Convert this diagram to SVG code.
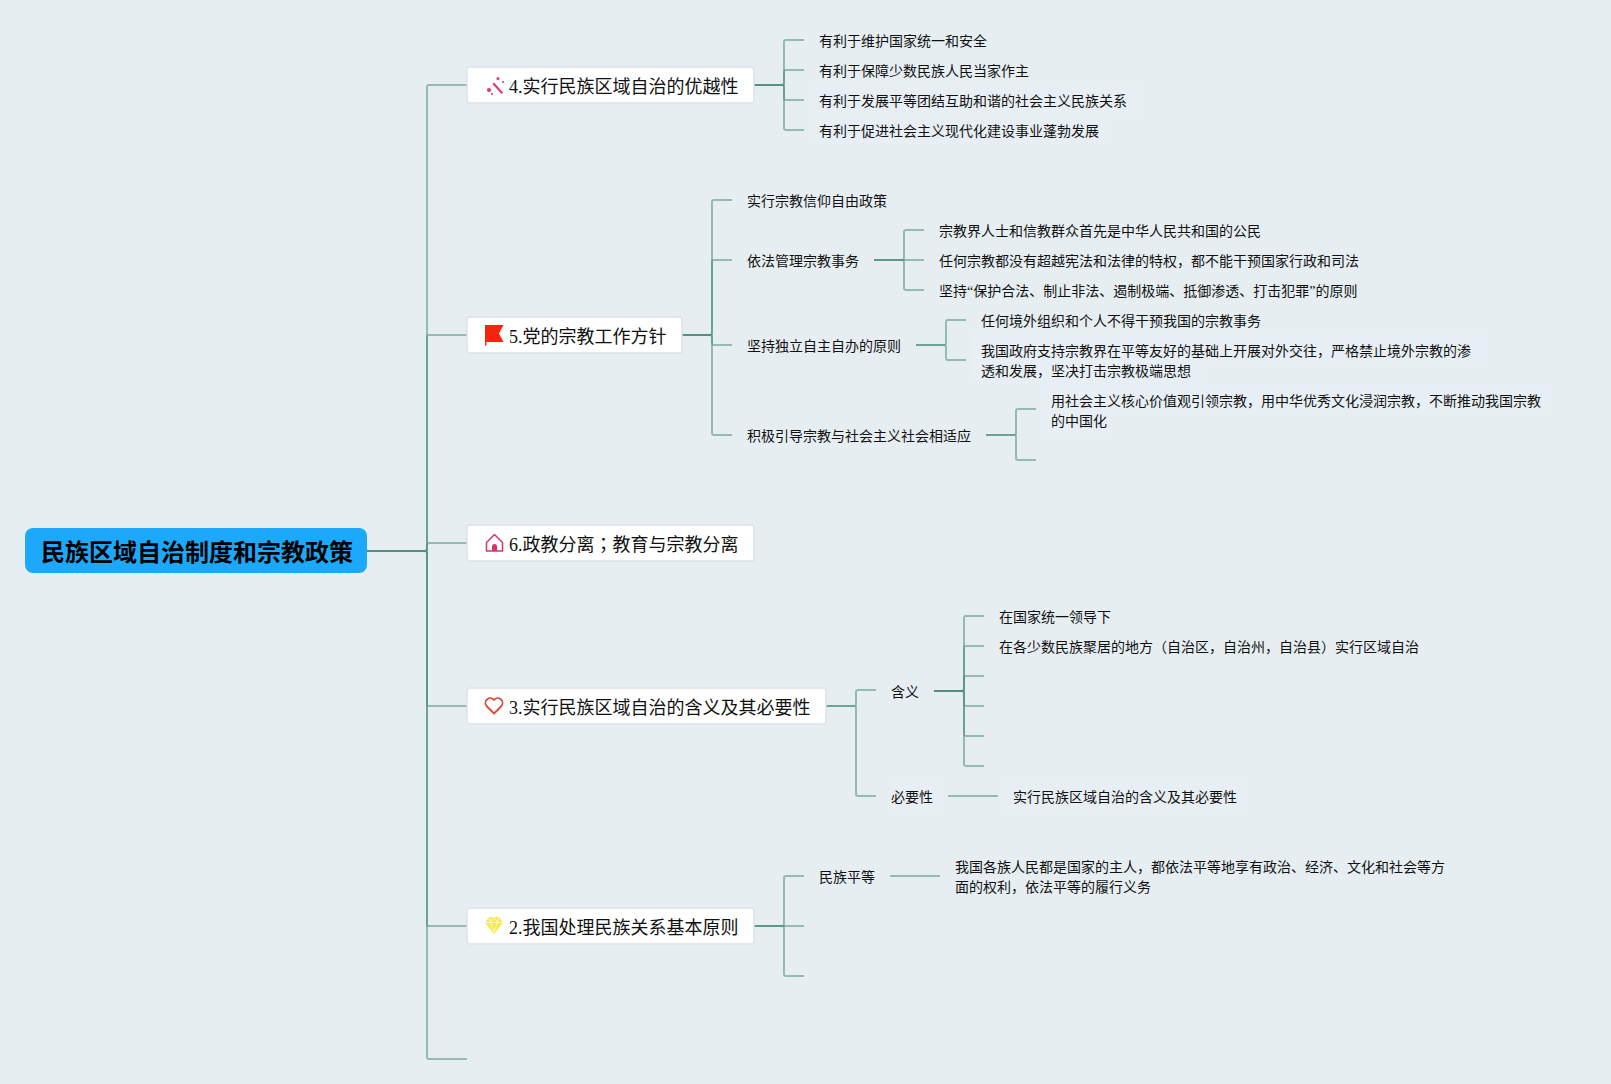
<svg xmlns="http://www.w3.org/2000/svg" width="1611" height="1084" viewBox="0 0 1611 1084">
<style>
text{font-family:"Liberation Serif","Noto Sans CJK SC",serif;fill:#111}
.t{font-size:14px}
.b{font-size:18px}
.r{font-size:24px;font-weight:700;font-family:"Noto Sans CJK SC","Liberation Sans",sans-serif;fill:#000}
.tc{font-family:"Noto Sans CJK TC",serif}
.c path{fill:none;stroke:#4f9080;stroke-opacity:.55;stroke-width:2}
.n{fill:#fff;stroke:#dde4e9;stroke-width:1.5}
.h{fill:#e8eff4}
</style>
<rect width="1611" height="1084" fill="#e6eef2"/>
<g id="halos">
<rect class="h" x="808" y="87" width="330" height="27"/>
<rect class="h" x="808" y="117" width="302" height="27"/>
<rect class="h" x="972" y="335" width="515" height="27"/>
<rect class="h" x="972" y="362" width="229" height="21"/>
<rect class="h" x="1040" y="386" width="512" height="27"/>
<rect class="h" x="1040" y="413" width="72" height="20"/>
<rect class="h" x="1003" y="783" width="244" height="27"/>
<rect class="h" x="888" y="783" width="56" height="27"/>
</g>
<g id="connectors" class="c">
<path d="M367 551H425a2 2 0 0 0 2-2V87a2 2 0 0 1 2-2H467"/>
<path d="M367 551H425a2 2 0 0 0 2-2V337a2 2 0 0 1 2-2H467"/>
<path d="M367 551H425a2 2 0 0 0 2-2V545a2 2 0 0 1 2-2H467"/>
<path d="M367 551H425a2 2 0 0 1 2 2V704a2 2 0 0 0 2 2H467"/>
<path d="M367 551H425a2 2 0 0 1 2 2V924a2 2 0 0 0 2 2H467"/>
<path d="M367 551H425a2 2 0 0 1 2 2V1057a2 2 0 0 0 2 2H467"/>

<path d="M754 85H782a2 2 0 0 0 2-2V42a2 2 0 0 1 2-2H804"/>
<path d="M754 85H782a2 2 0 0 0 2-2V72a2 2 0 0 1 2-2H804"/>
<path d="M754 85H782a2 2 0 0 1 2 2V98a2 2 0 0 0 2 2H804"/>
<path d="M754 85H782a2 2 0 0 1 2 2V128a2 2 0 0 0 2 2H804"/>

<path d="M682 335H710a2 2 0 0 0 2-2V202a2 2 0 0 1 2-2H732"/>
<path d="M682 335H710a2 2 0 0 0 2-2V262a2 2 0 0 1 2-2H732"/>
<path d="M682 335H710a2 2 0 0 1 2 2V343a2 2 0 0 0 2 2H732"/>
<path d="M682 335H710a2 2 0 0 1 2 2V433a2 2 0 0 0 2 2H732"/>

<path d="M874 260H902a2 2 0 0 0 2-2V232a2 2 0 0 1 2-2H924"/>
<path d="M874 260H924"/>
<path d="M874 260H902a2 2 0 0 1 2 2V288a2 2 0 0 0 2 2H924"/>

<path d="M916 345H944a2 2 0 0 0 2-2V322a2 2 0 0 1 2-2H966"/>
<path d="M916 345H944a2 2 0 0 1 2 2V358a2 2 0 0 0 2 2H966"/>

<path d="M986 435H1014a2 2 0 0 0 2-2V411a2 2 0 0 1 2-2H1036"/>
<path d="M986 435H1014a2 2 0 0 1 2 2V458a2 2 0 0 0 2 2H1036"/>

<path d="M826 706H854a2 2 0 0 0 2-2V692a2 2 0 0 1 2-2H876"/>
<path d="M826 706H854a2 2 0 0 1 2 2V794a2 2 0 0 0 2 2H876"/>

<path d="M934 691H962a2 2 0 0 0 2-2V618a2 2 0 0 1 2-2H984"/>
<path d="M934 691H962a2 2 0 0 0 2-2V648a2 2 0 0 1 2-2H984"/>
<path d="M934 691H962a2 2 0 0 0 2-2V678a2 2 0 0 1 2-2H984"/>
<path d="M934 691H962a2 2 0 0 1 2 2V704a2 2 0 0 0 2 2H984"/>
<path d="M934 691H962a2 2 0 0 1 2 2V734a2 2 0 0 0 2 2H984"/>
<path d="M934 691H962a2 2 0 0 1 2 2V764a2 2 0 0 0 2 2H984"/>

<path d="M948 796H998"/>

<path d="M754 926H782a2 2 0 0 0 2-2V878a2 2 0 0 1 2-2H804"/>
<path d="M754 926H804"/>
<path d="M754 926H782a2 2 0 0 1 2 2V974a2 2 0 0 0 2 2H804"/>

<path d="M890 876H940"/>
</g>

<g id="root">
<rect x="25" y="528" width="342" height="45" rx="8" fill="#1da9fb"/>
<text class="r" x="41" y="561">民族区域自治制度和宗教政策</text>
</g>

<g id="node-4">
<rect class="n" x="467" y="67" width="287" height="36" rx="3"/>
<g fill="#e6336e" stroke="none">
<path d="M492.500 84L494 82.500L503 92.500L501.500 94Z"/>
<circle cx="498" cy="78.500" r="1.500"/>
<circle cx="489" cy="90" r="2"/>
<circle cx="503" cy="82" r="1"/><circle cx="492" cy="94" r="1"/>
</g>
<text class="b" x="509" y="93">4.实行民族区域自治的优越性</text>
</g>

<g id="node-5">
<rect class="n" x="467" y="317" width="215" height="36" rx="3"/>
<path d="M485 325H503.500L499 333.500L503.500 342H486.500V345.500H485Z" fill="#f5260f"/>
<text class="b" x="509" y="343">5.党的宗教工作方针</text>
</g>

<g id="node-6">
<rect class="n" x="467" y="525" width="287" height="36" rx="3"/>
<path d="M486.500 542.500L494.500 534.500L502.500 542.500V551H486.500Z" fill="none" stroke="#d6336c" stroke-width="1.500" stroke-linejoin="round"/>
<path d="M492 551V546.500a2.500 2.500 0 0 1 5 0V551Z" fill="#d6336c"/>
<text class="b" x="509" y="551">6.政教分离<tspan class="tc">；</tspan>教育与宗教分离</text>
</g>

<g id="node-3">
<rect class="n" x="467" y="688" width="359" height="36" rx="3"/>
<path d="M494 713.500L486.500 706a4.800 4.800 0 0 1 7.500-6a4.800 4.800 0 0 1 7.500 6Z" fill="none" stroke="#e0483a" stroke-width="1.800" stroke-linejoin="round"/>
<text class="b" x="509" y="714">3.实行民族区域自治的含义及其必要性</text>
</g>

<g id="node-2">
<rect class="n" x="467" y="908" width="287" height="36" rx="3"/>
<path d="M489 917H499L503 922.500L494 934L485 922.500Z" fill="#f7e94a"/>
<path d="M485 922.500H503M490.500 922.500L494 932M497.500 922.500L494 932M489 917L490.500 922.500L494 917L497.500 922.500L499 917" fill="none" stroke="#fff" stroke-width=".7"/>
<text class="b" x="509" y="934">2.我国处理民族关系基本原则</text>
</g>

<g id="leaf-texts">
<g id="n4a"><text class="t" x="819" y="46">有利于维护国家统一和安全</text></g>
<g id="n4b"><text class="t" x="819" y="76">有利于保障少数民族人民当家作主</text></g>
<g id="n4c"><text class="t" x="819" y="106">有利于发展平等团结互助和谐的社会主义民族关系</text></g>
<g id="n4d"><text class="t" x="819" y="136">有利于促进社会主义现代化建设事业蓬勃发展</text></g>

<g id="n5a"><text class="t" x="747" y="206">实行宗教信仰自由政策</text></g>
<g id="n5b"><text class="t" x="747" y="266">依法管理宗教事务</text></g>
<g id="n5b1"><text class="t" x="939" y="236">宗教界人士和信教群众首先是中华人民共和国的公民</text></g>
<g id="n5b2"><text class="t" x="939" y="266">任何宗教都没有超越宪法和法律的特权，都不能干预国家行政和司法</text></g>
<g id="n5b3"><text class="t" x="939" y="296">坚持“保护合法、制止非法、遏制极端、抵御渗透、打击犯罪”的原则</text></g>
<g id="n5c"><text class="t" x="747" y="351">坚持独立自主自办的原则</text></g>
<g id="n5c1"><text class="t" x="981" y="326">任何境外组织和个人不得干预我国的宗教事务</text></g>
<g id="n5c2"><text class="t" x="981" y="356">我国政府支持宗教界在平等友好的基础上开展对外交往，严格禁止境外宗教的渗</text><text class="t" x="981" y="376">透和发展，坚决打击宗教极端思想</text></g>
<g id="n5d"><text class="t" x="747" y="441">积极引导宗教与社会主义社会相适应</text></g>
<g id="n5d1"><text class="t" x="1051" y="406">用社会主义核心价值观引领宗教，用中华优秀文化浸润宗教，不断推动我国宗教</text><text class="t" x="1051" y="426">的中国化</text></g>

<g id="n3a"><text class="t" x="891" y="697">含义</text></g>
<g id="n3a1"><text class="t" x="999" y="622">在国家统一领导下</text></g>
<g id="n3a2"><text class="t" x="999" y="652">在各少数民族聚居的地方（自治区，自治州，自治县）实行区域自治</text></g>
<g id="n3b"><text class="t" x="891" y="802">必要性</text></g>
<g id="n3b1"><text class="t" x="1013" y="802">实行民族区域自治的含义及其必要性</text></g>

<g id="n2a"><text class="t" x="819" y="882">民族平等</text></g>
<g id="n2a1"><text class="t" x="955" y="872">我国各族人民都是国家的主人，都依法平等地享有政治、经济、文化和社会等方</text><text class="t" x="955" y="892">面的权利，依法平等的履行义务</text></g>
</g>
</svg>
